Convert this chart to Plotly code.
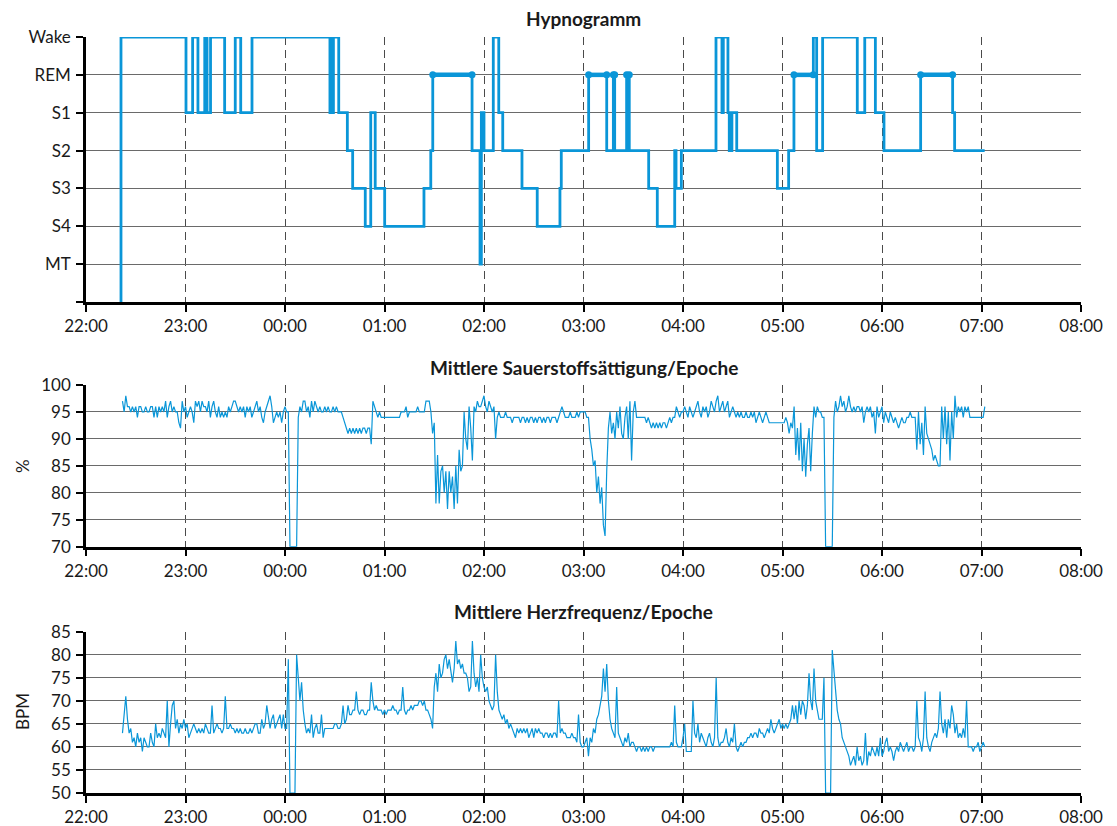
import pandas as pd
import plotly.graph_objects as go

# ---------------- data ----------------
BASE = pd.Timestamp("2000-01-01 22:00")

stage_names = ["", "MT", "S4", "S3", "S2", "S1", "REM", "Wake"]

# hypnogram change points (minutes after 22:00) and stage entered
hyp_min = [21.1, 21.1, 60.3, 64.3, 67.5, 71.6, 73.0, 75.1, 83.6, 90.0, 93.3, 100.1,
           147.1, 147.8, 148.4, 149.2, 152.4, 157.6, 160.8, 168.4, 171.7, 174.4, 180.1,
           203.8, 207.9, 209.1, 232.8, 237.6, 238.4, 240.0, 245.6, 248.9, 251.3,
           262.9, 272.1, 285.8, 286.6, 303.1, 314.0, 318.0, 318.8, 326.0, 327.6,
           339.3, 344.5, 355.0, 355.8, 359.0, 379.9, 383.5, 384.3, 387.1, 387.9,
           389.5, 392.4, 416.9, 423.7, 426.9, 438.6, 440.6, 444.2, 465.1, 469.6,
           476.0, 481.2, 503.3, 522.6, 523.8, 541.9]
hyp_stage = ["", "Wake", "S1", "Wake", "S1", "Wake", "S1", "Wake", "S1", "Wake", "S1", "Wake",
             "S1", "Wake", "S1", "Wake", "S1", "S2", "S3", "S4", "S1", "S3", "S4",
             "S3", "S2", "REM", "S2", "MT", "S1", "S2", "Wake", "S1", "S2",
             "S3", "S4", "S3", "S2", "REM", "S2", "REM", "S2", "REM", "S2",
             "S3", "S4", "S2", "S3", "S2", "Wake", "S1", "Wake", "S1", "S2",
             "S1", "S2", "S3", "S2", "REM", "Wake", "S2", "Wake", "S1", "Wake",
             "S1", "S2", "REM", "S1", "S2", "S2"]

# per-minute epochs, first epoch at 22:22
epoch_start_min = 22
spo2 = [
    97, 95, 98, 96, 96, 95, 96, 95,
    96, 94, 96, 96, 95, 95, 96, 95, 95, 96,
    96, 94, 96, 94, 96, 95, 96, 95, 97, 94,
    96, 97, 95, 96, 95, 95, 93, 92, 97, 95,
    96, 94, 95, 96, 95, 93, 97, 96, 97, 95,
    97, 96, 96, 95, 97, 94, 96, 97, 95, 94,
    96, 94, 95, 94, 95, 94, 96, 95, 96, 97,
    97, 96, 95, 96, 95, 96, 94, 96, 95, 96,
    94, 95, 96, 97, 95, 96, 94, 93, 95, 96,
    97, 98, 96, 93, 94, 95, 94, 95, 93, 95,
    96, 95, 95, 70, 70, 70, 70, 70, 94, 96,
    95, 97, 97, 95, 96, 94, 97, 95, 97, 96,
    95, 96, 95, 95, 96, 95, 96, 95, 95, 96,
    95, 96, 95, 95, 95, 94, 93, 92, 91, 92,
    91, 92, 91, 92, 91, 92, 91, 92, 92, 91,
    92, 92, 89, 97, 96, 95, 94, 95, 94, 94,
    94, 94, 94, 94, 94, 94, 94, 94, 94, 94,
    95, 95, 95, 96, 94, 95, 95, 95, 95, 95,
    96, 95, 95, 95, 95, 97, 97, 97, 95, 91,
    93, 78, 87, 78, 84, 85, 80, 84, 77, 84,
    80, 83, 77, 85, 78, 88, 84, 85, 95, 90,
    88, 96, 92, 86, 96, 95, 97, 96, 96, 97,
    98, 96, 95, 97, 96, 95, 96, 90, 94, 95,
    94, 94, 94, 95, 94, 94, 94, 93, 94, 94,
    94, 94, 93, 94, 94, 93, 94, 93, 94, 94,
    93, 94, 93, 94, 94, 93, 94, 93, 94, 94,
    93, 94, 94, 94, 93, 94, 95, 96, 95, 94,
    94, 94, 95, 94, 94, 94, 95, 94, 95, 95,
    95, 95, 94, 94, 90, 88, 85, 86, 80, 83,
    78, 81, 74, 72, 84, 92, 95, 91, 93, 90,
    95, 92, 96, 91, 90, 94, 96, 90, 97, 86,
    95, 97, 94, 94, 94, 94, 94, 94, 93, 94,
    93, 92, 93, 92, 93, 92, 93, 92, 93, 93,
    92, 93, 94, 93, 94, 94, 96, 95, 94, 95,
    95, 96, 95, 94, 96, 95, 94, 95, 96, 97,
    95, 94, 96, 95, 96, 94, 95, 97, 96, 95,
    97, 98, 95, 96, 97, 95, 96, 97, 94, 95,
    96, 95, 94, 95, 94, 95, 94, 94, 95, 94,
    94, 95, 94, 95, 93, 94, 95, 94, 93, 94,
    95, 94, 93, 93, 93, 93, 93, 93, 93, 93,
    93, 93, 94, 93, 91, 93, 92, 96, 87, 92,
    86, 93, 84, 90, 83, 89, 92, 84, 91, 96,
    94, 96, 95, 95, 94, 94, 70, 70, 70, 70,
    70, 94, 97, 95, 96, 98, 96, 97, 95, 96,
    98, 96, 95, 96, 95, 96, 96, 95, 96, 93,
    95, 96, 95, 96, 94, 95, 91, 96, 94, 95,
    96, 93, 95, 94, 93, 95, 94, 93, 94, 93,
    92, 93, 94, 93, 93, 94, 94, 95, 94, 94,
    94, 88, 95, 89, 93, 87, 96, 91, 90, 89,
    88, 86, 87, 86, 85, 85, 96, 90, 96, 89,
    95, 86, 95, 90, 98, 94, 96, 95, 96, 94,
    96, 95, 96, 94, 94, 94, 94, 94, 94, 94,
    94, 94, 96,
]
heart_rate = [
    63, 67, 71, 66, 63, 64, 61, 62,
    60, 63, 61, 62, 59, 62, 61, 60, 60, 63,
    61, 60, 65, 62, 63, 62, 64, 63, 62, 70,
    60, 65, 69, 70, 64, 66, 63, 65, 64, 66,
    64, 65, 62, 63, 64, 65, 64, 63, 64, 63,
    64, 63, 65, 64, 63, 63, 69, 63, 64, 65,
    64, 64, 63, 64, 71, 64, 64, 65, 64, 64,
    63, 64, 63, 64, 63, 63, 64, 63, 63, 64,
    63, 64, 65, 65, 63, 63, 66, 64, 65, 69,
    66, 64, 66, 67, 64, 65, 66, 67, 64, 67,
    64, 64, 79, 50, 50, 50, 50, 80, 75, 70,
    74, 68, 65, 63, 64, 63, 67, 62, 64, 65,
    63, 63, 67, 62, 64, 64, 64, 64, 64, 64,
    65, 65, 64, 64, 65, 69, 65, 66, 69, 67,
    67, 68, 68, 72, 68, 67, 68, 68, 67, 67,
    68, 68, 74, 70, 68, 69, 68, 68, 68, 67,
    68, 67, 68, 68, 68, 69, 68, 68, 67, 68,
    68, 73, 68, 67, 68, 68, 69, 68, 69, 69,
    69, 70, 70, 69, 70, 68, 68, 67, 66, 64,
    73, 76, 72, 78, 75, 76, 79, 80, 77, 79,
    76, 74, 77, 83, 78, 79, 77, 78, 76, 76,
    75, 72, 73, 83, 76, 73, 75, 72, 80, 75,
    73, 72, 73, 70, 69, 68, 69, 80, 72, 68,
    67, 66, 67, 65, 66, 64, 65, 64, 63, 62,
    64, 63, 64, 63, 64, 63, 64, 62, 63, 64,
    62, 64, 63, 64, 63, 63, 62, 63, 63, 62,
    63, 62, 63, 63, 62, 70, 63, 64, 63, 63,
    62, 62, 62, 63, 62, 62, 61, 67, 61, 60,
    60, 61, 62, 58, 62, 61, 64, 63, 66, 67,
    69, 71, 77, 72, 78, 70, 66, 64, 63, 62,
    73, 63, 62, 61, 60, 62, 61, 63, 60, 61,
    61, 60, 59, 60, 60, 59, 60, 59, 60, 59,
    60, 60, 59, 60, 60, 60, 60, 60, 60, 60,
    60, 60, 60, 61, 60, 69, 61, 60, 60, 60,
    62, 65, 59, 59, 59, 59, 70, 63, 62, 65,
    61, 63, 62, 61, 60, 62, 63, 61, 60, 62,
    75, 62, 60, 61, 61, 62, 64, 61, 60, 62,
    61, 65, 60, 59, 60, 61, 60, 61, 61, 62,
    62, 63, 62, 63, 63, 62, 64, 63, 63, 62,
    63, 64, 63, 66, 64, 63, 64, 65, 66, 64,
    65, 64, 65, 64, 65, 66, 69, 66, 69, 65,
    70, 67, 70, 69, 66, 69, 76, 70, 68, 77,
    70, 68, 66, 66, 66, 75, 50, 50, 50, 50,
    81, 77, 72, 68, 66, 65, 62, 61, 60, 59,
    58, 56, 57, 58, 56, 60, 57, 58, 56, 57,
    63, 56, 59, 58, 60, 59, 58, 60, 58, 62,
    58, 59, 61, 62, 59, 60, 59, 57, 59, 60,
    59, 61, 60, 59, 60, 61, 59, 60, 60, 59,
    60, 70, 62, 61, 59, 62, 72, 62, 60, 59,
    61, 62, 63, 62, 64, 72, 65, 63, 66, 62,
    66, 64, 69, 67, 63, 65, 62, 63, 62, 64,
    62, 70, 60, 60, 60, 59, 60, 60, 61, 59,
    60, 61, 60,
]

# ---------------- geometry helpers (page pixels; page body has 8px margin) ----------------
OFF = 8
W, HT = 1117, 826
L_PX, R_PX = 86 - OFF, 1081 - OFF
TOP_PX, BOT_PX = 37 - OFF, 793 - OFF
H_PX = BOT_PX - TOP_PX


def py(p):
    return (BOT_PX - (p - OFF)) / H_PX


def pxx(p):
    return ((p - OFF) - L_PX) / (R_PX - L_PX)


BLUE = "#0a96d8"
FONT = "Lato"
TXT = "#1a1a1a"

stage_level = {n: i for i, n in enumerate(stage_names)}
hyp_t = [BASE + pd.Timedelta(minutes=m) for m in hyp_min]
hyp_y = [stage_level[s] for s in hyp_stage]

ep_t = pd.date_range(BASE + pd.Timedelta(minutes=epoch_start_min), periods=len(spo2), freq="1min")
hr_t = pd.date_range(BASE + pd.Timedelta(minutes=epoch_start_min), periods=len(heart_rate), freq="1min")

fig = go.Figure()

fig.add_trace(go.Scatter(x=hyp_t, y=hyp_y, mode="lines", line=dict(color=BLUE, width=2.8, shape="hv"),
                         xaxis="x", yaxis="y", showlegend=False))

# REM periods drawn thicker with dots at their ends
for i, s in enumerate(hyp_stage[:-1]):
    if s == "REM":
        fig.add_trace(go.Scatter(x=[hyp_t[i], hyp_t[i + 1]], y=[stage_level["REM"]] * 2,
                                 mode="lines+markers", line=dict(color=BLUE, width=4.5),
                                 marker=dict(color=BLUE, size=7),
                                 xaxis="x", yaxis="y", showlegend=False))

fig.add_trace(go.Scatter(x=ep_t, y=spo2, mode="lines", line=dict(color=BLUE, width=1.2),
                         xaxis="x2", yaxis="y2", showlegend=False))
fig.add_trace(go.Scatter(x=hr_t, y=heart_rate, mode="lines", line=dict(color=BLUE, width=1.2),
                         xaxis="x3", yaxis="y3", showlegend=False))

xcommon = dict(type="date", range=[BASE, BASE + pd.Timedelta(hours=10)], tickformat="%H:%M",
               tick0=BASE, dtick=3600000, showgrid=True, gridcolor="#4a4a4a", gridwidth=1,
               griddash="8px,5px", showline=True, linecolor="black", linewidth=2.5,
               ticks="outside", ticklen=7, tickwidth=2, tickcolor="black",
               tickfont=dict(family=FONT, size=17, color=TXT), domain=[0, 1], zeroline=False,
               automargin=False)
ycommon = dict(showgrid=True, gridcolor="#6a6a6a", gridwidth=1, showline=True, linecolor="black",
               linewidth=2.5, ticks="outside", ticklen=7, tickwidth=2, tickcolor="black",
               tickfont=dict(family=FONT, size=17, color=TXT), zeroline=False,
               ticklabelstandoff=2, automargin=False)

fig.update_layout(
    width=W, height=HT,
    margin=dict(l=L_PX, r=W - R_PX, t=TOP_PX, b=HT - BOT_PX, autoexpand=False),
    paper_bgcolor="white", plot_bgcolor="white",
    font=dict(family=FONT, color=TXT),
    xaxis=dict(xcommon, anchor="y"),
    xaxis2=dict(xcommon, anchor="y2"),
    xaxis3=dict(xcommon, anchor="y3"),
    yaxis=dict(ycommon, domain=[py(302), 1], range=[0, 7], tickvals=list(range(8)),
               ticktext=stage_names, anchor="x"),
    yaxis2=dict(ycommon, domain=[py(546.7), py(385)], range=[70, 100], dtick=5, anchor="x2"),
    yaxis3=dict(ycommon, domain=[0, py(631.7)], range=[50, 85], dtick=5, anchor="x3"),
)

titles = [("Hypnogramm", 18), ("Mittlere Sauerstoffsättigung/Epoche", 367),
          ("Mittlere Herzfrequenz/Epoche", 611)]
for text, ypix in titles:
    fig.add_annotation(text="<b>%s</b>" % text, xref="paper", yref="paper", x=pxx(583.5), y=py(ypix),
                       xanchor="center", yanchor="middle", showarrow=False,
                       font=dict(family=FONT, size=19, color=TXT))

for text, ypix in [("%", 466), ("BPM", 712)]:
    fig.add_annotation(text=text, xref="paper", yref="paper", x=pxx(22), y=py(ypix),
                       xanchor="center", yanchor="middle", textangle=-90, showarrow=False,
                       font=dict(family=FONT, size=17, color=TXT))

fig.write_html("out.html")
